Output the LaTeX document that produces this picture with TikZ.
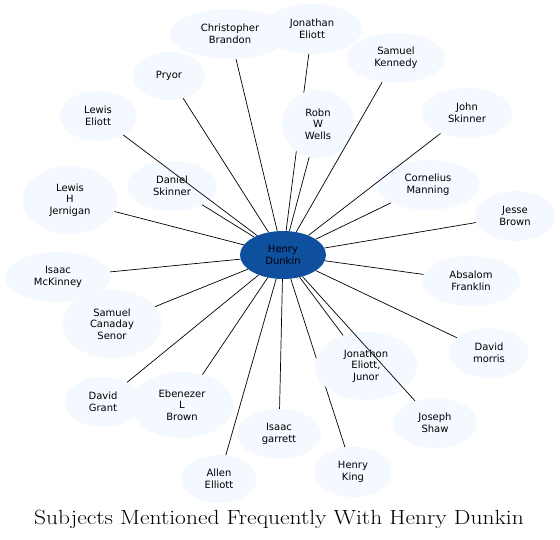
\documentclass[tikz,border=0pt]{standalone}
\usepackage{fontspec}
\usepackage{graphicx}
\usepackage{tikz}
\usetikzlibrary{shapes.geometric,backgrounds}
\newfontfamily\nodefont{DejaVu Sans}
\definecolor{HubBlue}{RGB}{14,80,158}
\definecolor{SubjFill}{RGB}{244,248,255}
\tikzset{
  subj/.style={ellipse,fill=SubjFill,inner sep=0pt,minimum height=50pt,
               align=center,font=\nodefont\fontsize{10}{11.7}\selectfont},
  tall/.style={subj,minimum height=68pt},
  hub/.style={subj,fill=HubBlue,text=black,minimum width=86pt,minimum height=48pt},
  link/.style={draw=black,line width=0.7pt},
}
\begin{document}
\begin{tikzpicture}[x=1pt,y=-1pt]
  \useasboundingbox (0,0) rectangle (560,540);
  \node[hub] (hub) at (283,255) {Henry\\Dunkin};
  % people round the hub
  \node[subj,minimum width=120pt] (cbrandon) at (230,34) {Christopher\\Brandon};
  \node[subj,minimum width=100pt] (jeliott) at (312,29) {Jonathan\\Eliott};
  \node[subj,minimum width=98pt] (skennedy) at (396,58) {Samuel\\Kennedy};
  \node[subj,minimum width=72pt,minimum height=48pt] (pryor) at (169,76) {Pryor};
  \node[subj,minimum width=76pt] (leliott) at (98,116) {Lewis\\Eliott};
  \node[tall,minimum width=72pt] (rwells) at (318,124) {Robn\\W\\Wells};
  \node[subj,minimum width=90pt] (jskinner) at (467,113) {John\\Skinner};
  \node[subj,minimum width=90pt] (dskinner) at (172,186) {Daniel\\Skinner};
  \node[tall,minimum width=94pt] (ljernigan) at (70,200) {Lewis\\H\\Jernigan};
  \node[subj,minimum width=104pt] (cmanning) at (428,185) {Cornelius\\Manning};
  \node[subj,minimum width=80pt] (jbrown) at (515,216) {Jesse\\Brown};
  \node[subj,minimum width=106pt] (imckinney) at (58,277) {Isaac\\McKinney};
  \node[subj,minimum width=98pt] (afranklin) at (471,281) {Absalom\\Franklin};
  \node[tall,minimum width=100pt] (scanaday) at (112,324) {Samuel\\Canaday\\Senor};
  \node[subj,minimum width=80pt] (dmorris) at (489,353) {David\\morris};
  \node[tall,minimum width=102pt] (jjunor) at (366,366) {Jonathon\\Eliott,\\Junor};
  \node[subj,minimum width=76pt] (dgrant) at (103,402) {David\\Grant};
  \node[tall,minimum width=102pt,minimum height=66pt] (ebrown) at (182,405) {Ebenezer\\L\\Brown};
  \node[subj,minimum width=84pt] (jshaw) at (435,423) {Joseph\\Shaw};
  \node[subj,minimum width=84pt] (igarrett) at (279,434) {Isaac\\garrett};
  \node[subj,minimum width=78pt] (hking) at (353,472) {Henry\\King};
  \node[subj,minimum width=76pt,minimum height=48pt] (aelliott) at (219,479) {Allen\\Elliott};
  % links (two of them run under other people)
  \begin{scope}[on background layer]
    \draw[link] (hub) -- (jeliott); \draw[link] (hub) -- (hking);
  \end{scope}
  \draw[link] (hub) -- (cbrandon); \draw[link] (hub) -- (skennedy); \draw[link] (hub) -- (pryor);
  \draw[link] (hub) -- (leliott); \draw[link] (hub) -- (rwells); \draw[link] (hub) -- (jskinner);
  \draw[link] (hub) -- (dskinner); \draw[link] (hub) -- (ljernigan); \draw[link] (hub) -- (cmanning);
  \draw[link] (hub) -- (jbrown); \draw[link] (hub) -- (imckinney); \draw[link] (hub) -- (afranklin);
  \draw[link] (hub) -- (scanaday); \draw[link] (hub) -- (dmorris); \draw[link] (hub) -- (jjunor);
  \draw[link] (hub) -- (dgrant); \draw[link] (hub) -- (ebrown); \draw[link] (hub) -- (jshaw);
  \draw[link] (hub) -- (igarrett); \draw[link] (hub) -- (aelliott);
  \node[font=\fontsize{20.5}{24}\selectfont] (title) at (279,519)
    {\scalebox{1.145}[1]{Subjects Mentioned Frequently With Henry Dunkin}};
\end{tikzpicture}
\end{document}
